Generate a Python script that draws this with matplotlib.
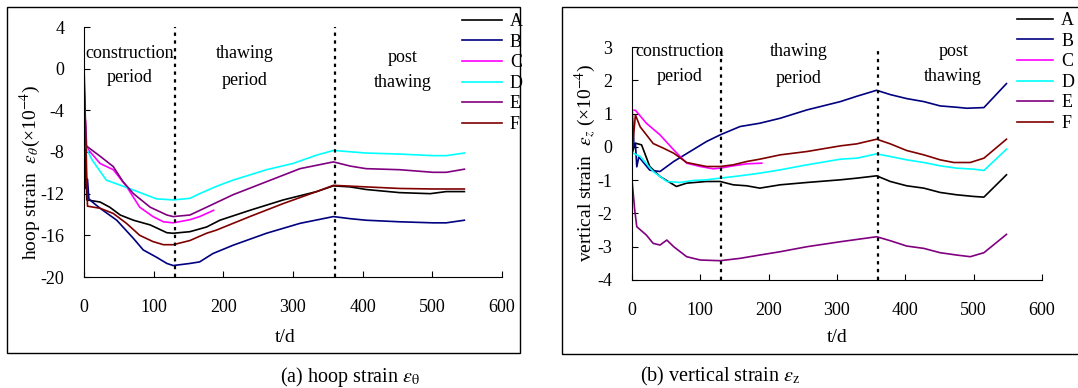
import matplotlib
matplotlib.use('Agg')
import matplotlib.pyplot as plt
from matplotlib.patches import Rectangle

plt.rcParams['font.family'] = 'Liberation Serif'
plt.rcParams['mathtext.fontset'] = 'stix'
plt.rcParams['axes.unicode_minus'] = False

names = ['A', 'B', 'C', 'D', 'E', 'F']
colors = ['black', '#000080', '#ff00ff', '#00ffff', '#800080', '#800000']

# (a) hoop strain, x10^-4
hoop_A_t = [0, 4, 23, 37, 52, 71, 95, 119, 128, 152, 176, 195, 238, 286, 334, 358, 382, 405, 453, 497, 520, 546]
hoop_A = [-1.5, -12.6, -12.8, -13.3, -14.05, -14.55, -15.0, -15.75, -15.8, -15.65, -15.2, -14.55, -13.6, -12.6, -11.8, -11.25, -11.35, -11.6, -11.9, -12.0, -11.8, -11.8]
hoop_B_t = [0, 3, 5, 7, 12, 23, 47, 71, 85, 104, 119, 128, 152, 166, 185, 214, 262, 310, 358, 382, 405, 453, 501, 520, 546]
hoop_B = [-4.3, -11.5, -10.6, -12.5, -12.8, -13.4, -14.55, -16.3, -17.4, -18.1, -18.7, -18.9, -18.7, -18.55, -17.75, -16.95, -15.8, -14.85, -14.2, -14.4, -14.55, -14.7, -14.8, -14.8, -14.55]
hoop_C_t = [2, 4, 23, 42, 61, 80, 99, 114, 128, 152, 166, 186]
hoop_C = [-5.0, -7.6, -9.1, -9.7, -11.3, -13.3, -14.2, -14.7, -14.8, -14.5, -14.2, -13.6]
hoop_D_t = [1, 3, 12, 32, 71, 104, 128, 152, 166, 190, 214, 262, 300, 334, 358, 405, 453, 501, 520, 546]
hoop_D = [-4.5, -7.6, -8.8, -10.7, -11.65, -12.5, -12.6, -12.45, -12.0, -11.3, -10.7, -9.7, -9.1, -8.3, -7.85, -8.1, -8.2, -8.35, -8.35, -8.1]
hoop_E_t = [0, 3, 23, 42, 56, 71, 95, 119, 128, 152, 176, 214, 262, 310, 358, 382, 405, 453, 501, 520, 546]
hoop_E = [-1.0, -7.4, -8.4, -9.4, -10.85, -12.0, -13.3, -14.05, -14.2, -14.05, -13.3, -12.1, -10.85, -9.6, -8.95, -9.35, -9.6, -9.7, -9.95, -9.95, -9.65]
hoop_F_t = [0, 5, 23, 42, 61, 80, 99, 114, 128, 152, 176, 190, 238, 286, 334, 358, 405, 453, 501, 546]
hoop_F = [0.4, -13.2, -13.4, -13.9, -14.85, -16.0, -16.6, -16.9, -16.9, -16.5, -15.8, -15.5, -14.2, -12.95, -11.8, -11.2, -11.35, -11.5, -11.55, -11.55]

# (b) vertical strain, x10^-4
vert_A_t = [0, 5, 14, 26, 41, 61, 65, 80, 109, 129, 148, 168, 187, 217, 256, 305, 329, 358, 378, 402, 427, 451, 475, 500, 515, 548]
vert_A = [-0.2, 0.11, 0.06, -0.59, -0.89, -1.14, -1.19, -1.09, -1.04, -1.04, -1.14, -1.17, -1.24, -1.14, -1.07, -0.99, -0.94, -0.87, -1.04, -1.17, -1.24, -1.37, -1.44, -1.49, -1.51, -0.84]
vert_B_t = [0, 3, 5, 7, 10, 26, 41, 61, 85, 109, 129, 158, 187, 217, 256, 305, 329, 358, 378, 402, 427, 451, 475, 490, 515, 548]
vert_B = [1.2, 0.0, 0.1, -0.6, -0.3, -0.7, -0.74, -0.44, -0.14, 0.16, 0.36, 0.61, 0.71, 0.86, 1.11, 1.36, 1.52, 1.7, 1.57, 1.45, 1.36, 1.23, 1.19, 1.16, 1.18, 1.9]
vert_C_t = [3, 5, 21, 41, 61, 80, 100, 119, 129, 148, 168, 190]
vert_C = [1.1, 1.1, 0.71, 0.36, -0.09, -0.49, -0.59, -0.66, -0.64, -0.57, -0.51, -0.49]
vert_D_t = [2, 12, 31, 51, 70, 90, 109, 129, 158, 187, 217, 256, 305, 329, 358, 378, 402, 427, 451, 475, 500, 515, 548]
vert_D = [-0.19, -0.29, -0.74, -1.04, -1.07, -1.01, -0.99, -0.94, -0.87, -0.79, -0.69, -0.54, -0.37, -0.34, -0.21, -0.29, -0.39, -0.47, -0.57, -0.64, -0.67, -0.71, -0.07]
vert_E_t = [0, 4, 7, 21, 31, 41, 51, 61, 80, 100, 129, 158, 187, 217, 256, 305, 358, 378, 402, 427, 451, 475, 495, 515, 548]
vert_E = [-0.99, -1.9, -2.4, -2.65, -2.9, -2.95, -2.8, -3.0, -3.3, -3.4, -3.42, -3.35, -3.25, -3.15, -3.0, -2.85, -2.7, -2.82, -2.98, -3.05, -3.18, -3.25, -3.3, -3.18, -2.63]
vert_F_t = [0, 5, 12, 31, 46, 61, 80, 109, 129, 148, 168, 187, 217, 256, 305, 329, 358, 378, 402, 427, 451, 471, 495, 515, 548]
vert_F = [-0.19, 0.96, 0.6, 0.1, -0.04, -0.19, -0.47, -0.59, -0.59, -0.54, -0.44, -0.37, -0.24, -0.14, 0.03, 0.09, 0.23, 0.09, -0.11, -0.24, -0.39, -0.47, -0.47, -0.34, 0.23]

hoop = [(hoop_A_t, hoop_A), (hoop_B_t, hoop_B), (hoop_C_t, hoop_C),
        (hoop_D_t, hoop_D), (hoop_E_t, hoop_E), (hoop_F_t, hoop_F)]
vert = [(vert_A_t, vert_A), (vert_B_t, vert_B), (vert_C_t, vert_C),
        (vert_D_t, vert_D), (vert_E_t, vert_E), (vert_F_t, vert_F)]

stage_lines = [130, 360]
W, H = 1078, 388
fs = 13

fig = plt.figure(figsize=(W / 100, H / 100), dpi=100)


def px(x0, y0, x1, y1):
    return [x0 / W, 1 - y1 / H, (x1 - x0) / W, (y1 - y0) / H]


def setup(ax, ylim, yticks, xpad):
    ax.set_xlim(0, 600)
    ax.set_ylim(*ylim)
    ax.set_xticks(range(0, 601, 100))
    ax.set_yticks(yticks)
    ax.spines['top'].set_visible(False)
    ax.spines['right'].set_visible(False)
    ax.tick_params(direction='in', length=4, labelsize=fs)
    ax.tick_params(axis='x', pad=xpad)
    ax.tick_params(axis='y', pad=14)
    for x in stage_lines:
        ax.axvline(x, color='black', lw=1.6, ls=(0, (1.5, 2.0)))


# left panel
fig.add_artist(Rectangle((7 / W, 1 - 353 / H), 513 / W, 346 / H, transform=fig.transFigure,
                         fill=False, edgecolor='black', lw=1.0))
ax1 = fig.add_axes(px(84, 27, 502, 277))
lines1 = []
for (t, v), c, n in zip(hoop, colors, names):
    l, = ax1.plot(t, v, color=c, lw=1.2, label=n)
    lines1.append(l)
setup(ax1, (-20, 4), range(-20, 5, 4), 16)
ax1.text(66, 1.5, 'construction', ha='center', va='center', fontsize=fs)
ax1.text(66, -0.8, 'period', ha='center', va='center', fontsize=fs)
ax1.text(231, 1.5, 'thawing', ha='center', va='center', fontsize=fs)
ax1.text(231, -1.1, 'period', ha='center', va='center', fontsize=fs)
ax1.text(458, 1.1, 'post', ha='center', va='center', fontsize=fs)
ax1.text(458, -1.3, 'thawing', ha='center', va='center', fontsize=fs)
fig.text(285 / W, 1 - 337 / H, 't/d', ha='center', va='center', fontsize=14)
fig.text(30 / W, 1 - 172 / H, r'hoop strain  $\varepsilon_{\theta}$(×10$^{-4}$)',
         ha='center', va='center', rotation=90, fontsize=14)
fig.legend(handles=lines1, loc='upper left', bbox_to_anchor=(462 / W, 1 - 13 / H),
           frameon=False, fontsize=fs, handlelength=2.2, handletextpad=0.45,
           labelspacing=0.2, borderpad=0, borderaxespad=0)
fig.text(350 / W, 1 - 377 / H, r'(a) hoop strain $\varepsilon_{\mathrm{\theta}}$',
         ha='center', va='center', fontsize=14.5)

# right panel
fig.add_artist(Rectangle((562 / W, 1 - 354 / H), 540 / W, 347 / H, transform=fig.transFigure,
                         fill=False, edgecolor='black', lw=1.0))
ax2 = fig.add_axes(px(632, 47, 1042, 280))
lines2 = []
for (t, v), c, n in zip(vert, colors, names):
    l, = ax2.plot(t, v, color=c, lw=1.2, label=n)
    lines2.append(l)
setup(ax2, (-4, 3), range(-4, 4), 16)
ax2.text(70, 2.85, 'construction', ha='center', va='center', fontsize=fs)
ax2.text(70, 2.1, 'period', ha='center', va='center', fontsize=fs)
ax2.text(244, 2.85, 'thawing', ha='center', va='center', fontsize=fs)
ax2.text(244, 2.05, 'period', ha='center', va='center', fontsize=fs)
ax2.text(470, 2.85, 'post', ha='center', va='center', fontsize=fs)
ax2.text(470, 2.1, 'thawing', ha='center', va='center', fontsize=fs)
fig.text(837 / W, 1 - 338 / H, 't/d', ha='center', va='center', fontsize=14)
fig.text(585 / W, 1 - 163 / H, r'vertical strain  $\varepsilon_z$ (×10$^{-4}$)',
         ha='center', va='center', rotation=90, fontsize=14)
fig.legend(handles=lines2, loc='upper left', bbox_to_anchor=(1017 / W, 1 - 12 / H),
           frameon=False, fontsize=fs, handlelength=2.0, handletextpad=0.45,
           labelspacing=0.2, borderpad=0, borderaxespad=0)
fig.text(720 / W, 1 - 376 / H, r'(b) vertical strain $\varepsilon_{\mathrm{z}}$',
         ha='center', va='center', fontsize=14.5)

fig.savefig('out.png', dpi=100)
